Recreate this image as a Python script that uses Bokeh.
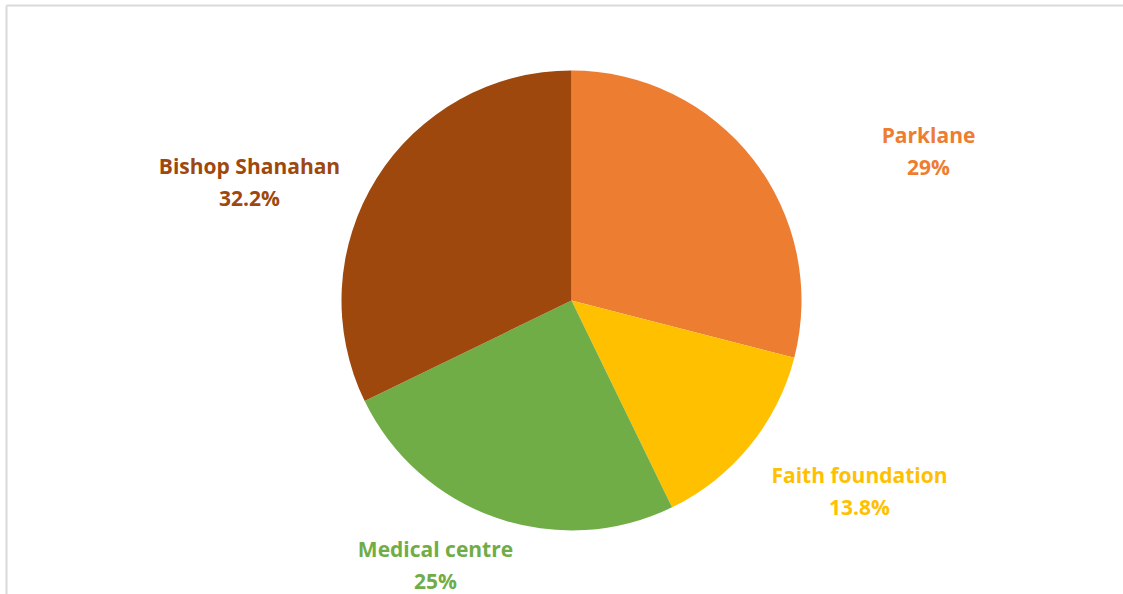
import math

from bokeh.core.properties import value
from bokeh.embed import file_html
from bokeh.models import ColumnDataSource, Range1d
from bokeh.plotting import figure
from bokeh.resources import INLINE

# Share of patients by facility
facilities = ["Parklane", "Faith foundation", "Medical centre", "Bishop Shanahan"]
shares = [29.0, 13.8, 25.0, 32.2]
colors = ["#ED7D31", "#FFC000", "#70AD47", "#9E480E"]

W, H = 1123, 594
CX, CY, R = 571, 300, 230  # pie centre / radius in screen pixels (y down)

# label anchor (centre of the name line) in screen pixels
label_xy = [(928, 134), (859, 474), (435, 548), (249, 165)]
LINE_GAP = 32


def sy(y):
    """screen y (down) -> data y (up)"""
    return H - y


total = sum(shares)
starts, ends = [], []
acc = 0.0
for s in shares:
    starts.append(math.pi / 2 - 2 * math.pi * acc / total)
    acc += s
    ends.append(math.pi / 2 - 2 * math.pi * acc / total)

src = ColumnDataSource(dict(
    start=starts, end=ends, color=colors,
    x=[CX] * len(shares), y=[sy(CY)] * len(shares),
))

p = figure(width=W, height=H, output_backend="svg", toolbar_location=None,
           x_range=Range1d(0, W), y_range=Range1d(0, H),
           min_border=0, min_border_left=0, min_border_right=0,
           min_border_top=0, min_border_bottom=0)
p.axis.visible = False
p.grid.visible = False
p.outline_line_color = None
p.background_fill_color = "white"
p.border_fill_color = "white"

p.wedge(x="x", y="y", radius=R, start_angle="start", end_angle="end",
        direction="clock", fill_color="color", line_color=None, source=src)

# chart-area frame (top and left edges)
p.segment(x0=[6, 6], y0=[sy(5), sy(5)], x1=[W + 5, 6], y1=[sy(5), -5],
          line_color="#D9D9D9", line_width=2)

lbl = ColumnDataSource(dict(
    x=[xy[0] for xy in label_xy],
    y1=[sy(xy[1]) for xy in label_xy],
    y2=[sy(xy[1] + LINE_GAP) for xy in label_xy],
    name=facilities,
    pct=[f"{s:g}%" for s in shares],
    color=colors,
))
for ycol, tcol in (("y1", "name"), ("y2", "pct")):
    p.text(x="x", y=ycol, text=tcol, source=lbl, text_color="color",
           text_font=value("Open Sans"), text_font_style="bold",
           text_font_size="21px", text_align="center",
           text_baseline="middle")

open("out.html", "w").write(file_html(p, INLINE))
